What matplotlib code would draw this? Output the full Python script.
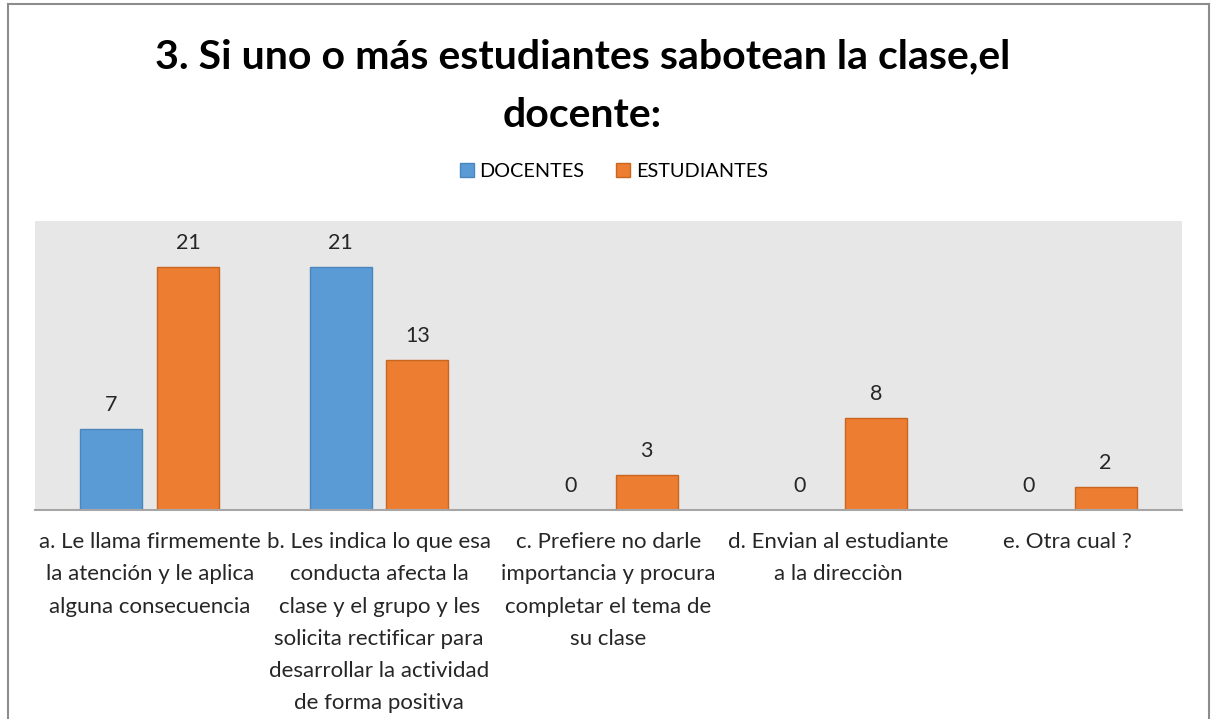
import numpy as np
import matplotlib
matplotlib.use('Agg')
import matplotlib.pyplot as plt
from matplotlib.lines import Line2D

# Datos del gráfico
categorias = [
    'a. Le llama firmemente\nla atención y le aplica\nalguna consecuencia',
    'b. Les indica lo que esa\nconducta afecta la\nclase y el grupo y les\nsolicita rectificar para\ndesarrollar la actividad\nde forma positiva',
    'c. Prefiere no darle\nimportancia y procura\ncompletar el tema de\nsu clase',
    'd. Envian al estudiante\na la direcciòn',
    'e. Otra cual ?',
]
docentes = [7, 21, 0, 0, 0]
estudiantes = [21, 13, 3, 8, 2]

plt.rcParams['font.family'] = ['Lato', 'DejaVu Sans']

fig = plt.figure(figsize=(12.11, 7.19), dpi=100)
ax = fig.add_axes([0.0289, 0.2907, 0.9471, 0.4019])

x = np.arange(len(categorias))
ancho = 0.27
b1 = ax.bar(x - 0.167, docentes, ancho, color='#5B9BD5', edgecolor='#4A85BC',
            linewidth=1, label='DOCENTES')
b2 = ax.bar(x + 0.167, estudiantes, ancho, color='#ED7D31', edgecolor='#C8651F',
            linewidth=1, label='ESTUDIANTES')

ax.bar_label(b1, padding=10, fontsize=15.5, color='#262626')
ax.bar_label(b2, padding=10, fontsize=15.5, color='#262626')

ax.set_facecolor('#E7E7E7')
ax.set_xlim(-0.5, 4.5)
ax.set_ylim(0, 25)
ax.set_yticks([])
ax.set_xticks(x)
ax.set_xticklabels(categorias, fontsize=16, color='#262626', linespacing=1.76,
                   va='top', multialignment='center')
ax.tick_params(axis='x', length=0, pad=16)
for s in ['top', 'left', 'right']:
    ax.spines[s].set_visible(False)
ax.spines['bottom'].set_color('#A6A6A6')
ax.spines['bottom'].set_linewidth(1.5)

# Título
fig.text(0.481, 0.880, '3. Si uno o más estudiantes sabotean la clase,el\ndocente:',
         ha='center', va='center', fontsize=29.5, fontweight='bold',
         linespacing=1.72, multialignment='center')

# Leyenda
fig.legend(handles=[b1, b2], loc='center', bbox_to_anchor=(0.507, 0.761),
           ncol=2, frameon=False, fontsize=14.3, handlelength=0.7,
           handleheight=0.7, handletextpad=0.3, columnspacing=1.6)

# Marco exterior (sin borde inferior)
borde = '#8C8C8C'
fig.add_artist(Line2D([0.0066, 0.0066], [0, 0.9944], transform=fig.transFigure, color=borde, lw=1.5))
fig.add_artist(Line2D([0.0066, 0.9983], [0.9944, 0.9944], transform=fig.transFigure, color=borde, lw=1.5))
fig.add_artist(Line2D([0.9983, 0.9983], [0, 0.9944], transform=fig.transFigure, color=borde, lw=1.5))

fig.savefig('out.png', dpi=100)
